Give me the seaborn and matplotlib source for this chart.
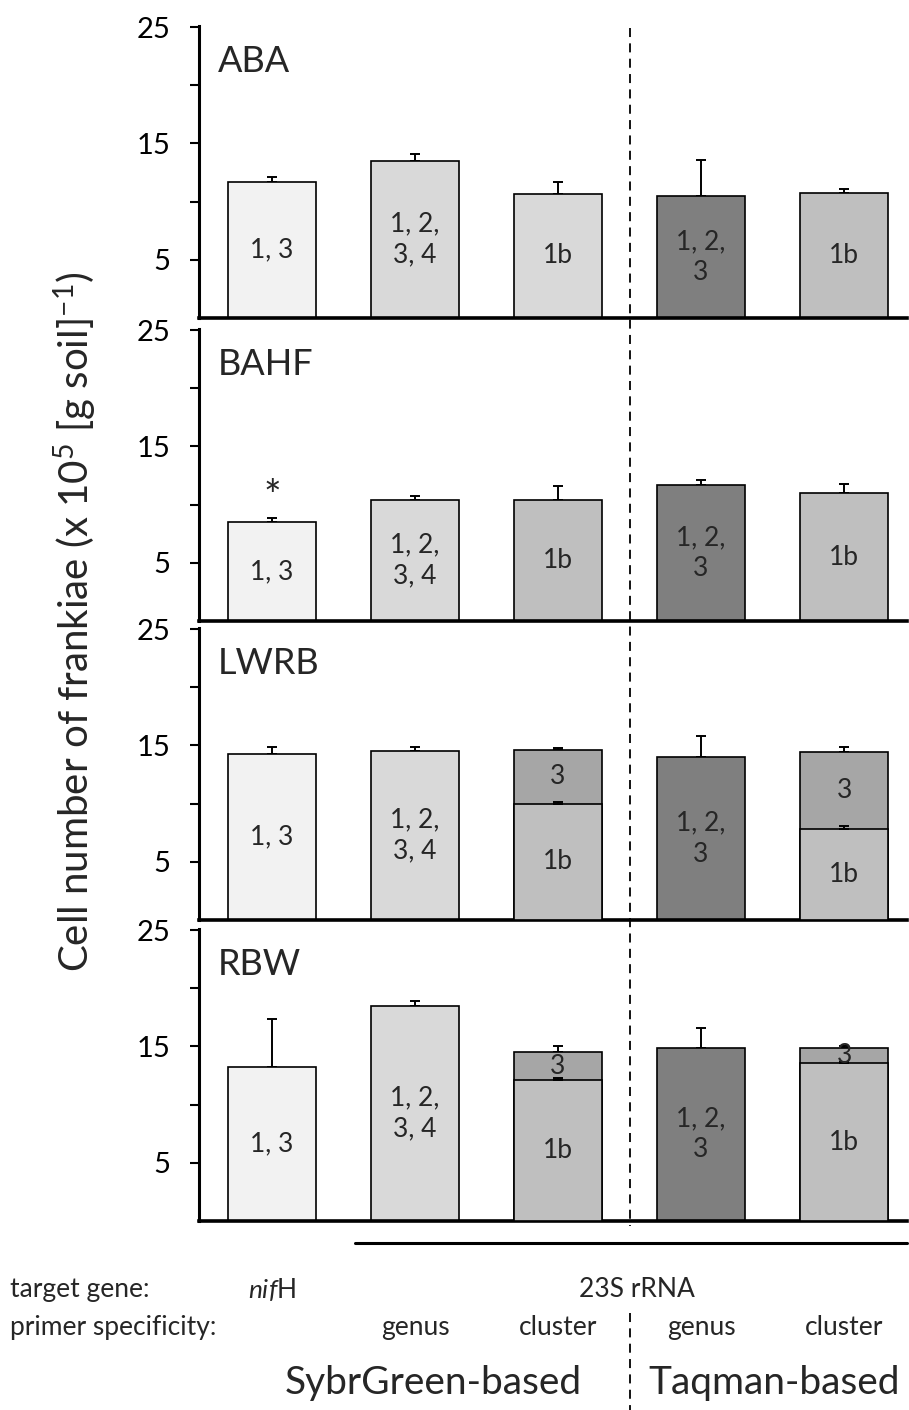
import numpy as np
import pandas as pd
import matplotlib
matplotlib.use("Agg")
import matplotlib.pyplot as plt
import matplotlib.transforms as mtransforms
from matplotlib.lines import Line2D
import seaborn as sns

# --- data ---
sites = ["ABA", "BAHF", "LWRB", "RBW"]
assays = ["SG nifH", "SG genus", "SG cluster", "TQ genus", "TQ cluster"]
bar_labels = ["1, 3", "1, 2,\n3, 4", "1b", "1, 2,\n3", "1b"]
upper_label = "3"

# totals (x 10^5 cells / g soil) and upward error
aba_mean = [11.7, 13.5, 10.7, 10.5, 10.75]
aba_err = [0.4, 0.6, 1.0, 3.1, 0.35]
bahf_mean = [8.5, 10.4, 10.4, 11.65, 11.0]
bahf_err = [0.35, 0.35, 1.2, 0.45, 0.8]
lwrb_mean = [14.3, 14.5, 14.6, 14.0, 14.4]
lwrb_err = [0.55, 0.4, 0.2, 1.8, 0.5]
rbw_mean = [13.2, 18.45, 14.5, 14.9, 14.85]
rbw_err = [4.2, 0.5, 0.5, 1.7, 0.2]

# cluster 1b part of the stacked bars (nan = not stacked)
aba_low = [np.nan] * 5
bahf_low = [np.nan] * 5
lwrb_low = [np.nan, np.nan, 10.0, np.nan, 7.85]
lwrb_low_err = [0, 0, 0.15, 0, 0.2]
rbw_low = [np.nan, np.nan, 12.1, np.nan, 13.55]
rbw_low_err = [0, 0, 0.15, 0, 0.15]

aba_colors = ["#F2F2F2", "#D9D9D9", "#D9D9D9", "#7F7F7F", "#BFBFBF"]
other_colors = ["#F2F2F2", "#D9D9D9", "#BFBFBF", "#7F7F7F", "#BFBFBF"]
upper_color = "#A6A6A6"

star_bars = {"BAHF": [0]}

panels = [
    ("ABA", aba_mean, aba_err, aba_low, [0] * 5, aba_colors),
    ("BAHF", bahf_mean, bahf_err, bahf_low, [0] * 5, other_colors),
    ("LWRB", lwrb_mean, lwrb_err, lwrb_low, lwrb_low_err, other_colors),
    ("RBW", rbw_mean, rbw_err, rbw_low, rbw_low_err, other_colors),
]

sns.set_theme(style="ticks")
plt.rcParams["font.family"] = ["Lato", "DejaVu Sans"]
plt.rcParams["mathtext.fontset"] = "custom"
plt.rcParams["mathtext.rm"] = "Lato"
plt.rcParams["mathtext.it"] = "Lato:italic"

W, H = 909, 1410
fig = plt.figure(figsize=(W / 100, H / 100), dpi=100)

zeros_px = [318, 621, 920, 1221]
left, right = 199 / W, 907 / W
panel_h = 292 / H
xlim = (-0.51, 4.44)

axes = []
for (site, mean, err, low, low_err, colors), z in zip(panels, zeros_px):
    ax = fig.add_axes([left, 1 - z / H, right - left, panel_h])
    axes.append(ax)
    stacked = ~np.isnan(np.array(low, dtype=float))
    df = pd.DataFrame({"assay": assays, "total": mean, "low": low})
    top_pal = {a: (upper_color if s else c) for a, c, s in zip(assays, colors, stacked)}
    sns.barplot(data=df, x="assay", y="total", hue="assay", order=assays,
                palette=top_pal, legend=False, width=0.615, edgecolor="black",
                linewidth=1.2, errorbar=None, ax=ax, zorder=2)
    if stacked.any():
        low_df = df[stacked]
        low_pal = {a: c for a, c in zip(assays, colors)}
        sns.barplot(data=low_df, x="assay", y="low", hue="assay", order=assays,
                    hue_order=list(low_df["assay"]),
                    palette={a: low_pal[a] for a in low_df["assay"]},
                    legend=False, width=0.615, edgecolor="black",
                    linewidth=1.2, errorbar=None, ax=ax, zorder=3)
    xs = np.arange(len(assays))
    ax.errorbar(xs, mean, yerr=[np.zeros(5), err], fmt="none", ecolor="black",
                elinewidth=1.4, capsize=3.5, capthick=1.4, zorder=1)
    if stacked.any():
        ax.errorbar(xs[stacked], np.array(low)[stacked],
                    yerr=[np.zeros(stacked.sum()), np.array(low_err)[stacked]],
                    fmt="none", ecolor="black", elinewidth=1.4, capsize=3.5,
                    capthick=1.4, zorder=4)

    # labels inside bars
    for i in xs:
        if stacked[i]:
            ax.text(i, low[i] / 2, bar_labels[i], ha="center", va="center",
                    fontsize=19, linespacing=1.3, zorder=5)
            ax.text(i, (low[i] + mean[i]) / 2, upper_label, ha="center",
                    va="center", fontsize=19, zorder=5)
        else:
            ax.text(i, mean[i] / 2, bar_labels[i], ha="center", va="center",
                    fontsize=19, linespacing=1.3, zorder=5)
    for i in star_bars.get(site, []):
        ax.text(i, mean[i] + err[i] + 0.1, "*", ha="center", va="bottom",
                fontsize=30, zorder=5)

    ax.text(0.027, 0.88, site, transform=ax.transAxes, ha="left", va="center",
            fontsize=26)

    ax.set_xlim(*xlim)
    ax.set_ylim(0, 25.1)
    ax.set_yticks([5, 15, 25])
    ax.set_yticklabels(["5", "15", "25"], fontsize=21)
    ax.set_yticks([10, 20], minor=True)
    ax.tick_params(axis="y", which="both", direction="out", length=6.5,
                   width=1.5, pad=14, colors="black")
    ax.set_xticks([])
    ax.set_xlabel("")
    ax.set_ylabel("")
    for s in ["top", "right"]:
        ax.spines[s].set_visible(False)
    ax.spines["left"].set_linewidth(2.2)
    ax.spines["bottom"].set_linewidth(2.6)
    ax.spines["left"].set_color("black")
    ax.spines["bottom"].set_color("black")
    ax.patch.set_alpha(0)

# bottom annotation area
bx = fig.add_axes([left, 0, right - left, (H - 1221) / H])
bx.set_xlim(*xlim)
bx.set_ylim(0, 1)
bx.axis("off")
bx.plot([0.58, xlim[1]], [0.884, 0.884], color="black", lw=2.2, clip_on=False)
row_tf = mtransforms.blended_transform_factory(fig.transFigure, bx.transAxes)
bx.text(10 / W, 0.635, "target gene:", transform=row_tf, ha="left",
        va="center", fontsize=19)
bx.text(10 / W, 0.434, "primer specificity:", transform=row_tf, ha="left",
        va="center", fontsize=19)
bx.text(0, 0.635, r"$\mathit{nif}$H", ha="center", va="center", fontsize=19)
bx.text(2.55, 0.635, "23S rRNA", ha="center", va="center", fontsize=19)
for i in range(1, 5):
    bx.text(i, 0.434, assays[i].split()[1], ha="center", va="center",
            fontsize=19)
bx.text(1.13, 0.143, "SybrGreen-based", ha="center", va="center", fontsize=28)
bx.text(3.51, 0.143, "Taqman-based", ha="center", va="center", fontsize=28)

# dashed separator: through the panels, then again in the lower label rows
sep_tf = mtransforms.blended_transform_factory(axes[0].transData, fig.transFigure)
for y0, y1 in [(28, 1226), (1313, 1410)]:
    fig.add_artist(Line2D([2.5, 2.5], [1 - y0 / H, 1 - y1 / H], transform=sep_tf,
                          color="black", lw=1.3, linestyle=(0, (5, 3.5))))

fig.text(75 / W, 1 - 622 / H,
         r"Cell number of frankiae (x 10$^{5}$ [g soil]$^{-1}$)",
         rotation=90, ha="center", va="center", fontsize=29)

fig.savefig("out.png", dpi=100)
